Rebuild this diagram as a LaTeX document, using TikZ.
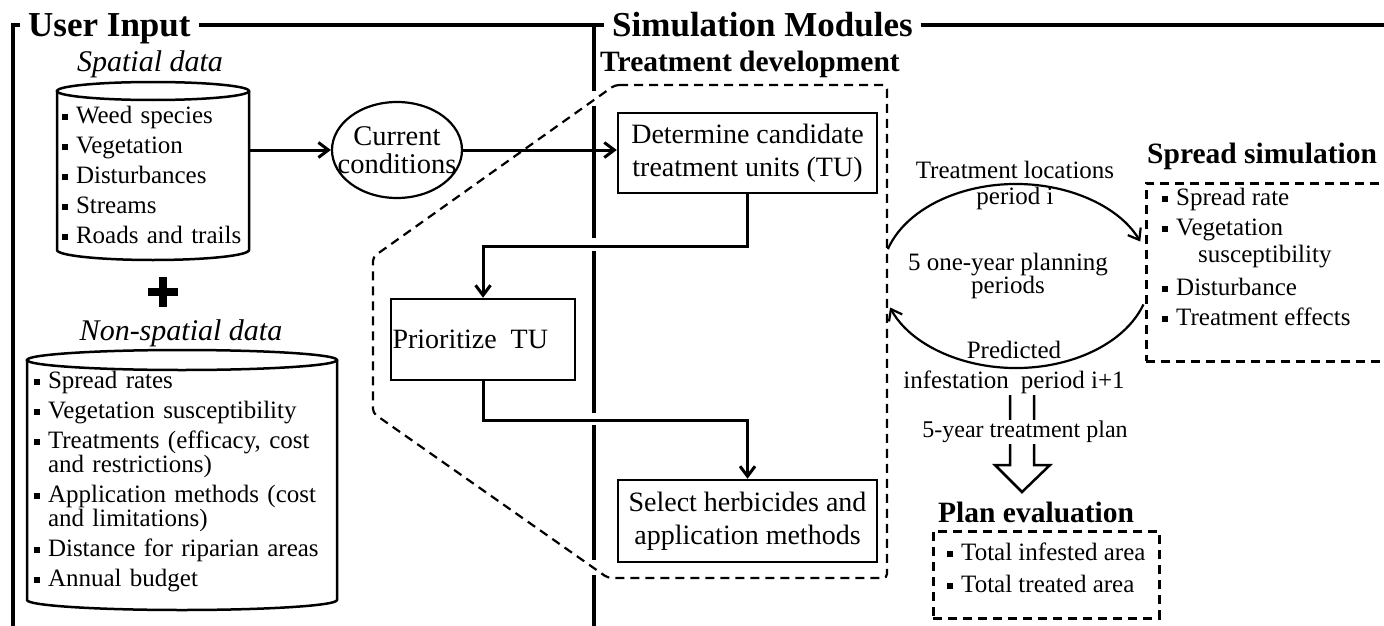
\documentclass[tikz,border=0pt]{standalone}
\usepackage{fontspec}
\setmainfont{Liberation Serif}
\usetikzlibrary{arrows.meta,shapes.geometric}

% small square bullet for the item lists
\newcommand{\sqb}{\makebox[14pt][l]{\rule[3.5pt]{6pt}{6pt}}}

\begin{document}
\begin{tikzpicture}[x=1pt,y=-1pt,
frame/.style={line width=4.5pt},
box/.style={draw,line width=2.5pt,inner sep=0pt,align=center,font=\fontsize{28}{33}\selectfont},
dashbox/.style={draw,line width=2.5pt,dash pattern=on 9pt off 6pt},
conn/.style={line width=3pt,-{Straight Barb[length=10pt,width=15pt]}},
cyl/.style={line width=2.5pt},
bigtitle/.style={font=\fontsize{35}{35}\selectfont\bfseries,inner xsep=8pt,inner ysep=0pt,anchor=base west},
subtitle/.style={font=\fontsize{29.5}{30}\selectfont\bfseries,inner sep=0pt,anchor=base west},
datatitle/.style={font=\fontsize{30}{30}\selectfont\itshape,inner sep=0pt,anchor=base},
itemlist/.style={font=\fontsize{25}{24}\selectfont,align=left,inner ysep=0pt},
cyctext/.style={font=\fontsize{25}{26}\selectfont,align=center,inner sep=0pt}
]
\useasboundingbox (0,0) rectangle (1384,626);

% frame: titles, top rule and the two verticals
\coordinate (top) at (0,25);
\node[bigtitle] (userin) at (20,37) {User Input};
\node[bigtitle] (simmod) at (604,37) {Simulation Modules};
\draw[frame] (userin.west |- top) -| (13,630);
\draw[frame] (userin.east |- top) -- (simmod.west |- top);
\draw[frame] (simmod.east |- top) -- (1390,25);
\draw[frame] (594,25) -- (594,91) (594,106) -- (594,238) (594,251) -- (594,413)
  (594,425) -- (594,560) (594,575) -- (594,630);

% spatial data
\node[datatitle] (spt) at (150,72) {Spatial data};
\draw[cyl] (57,91) -- (57,250) arc[start angle=180,end angle=0,x radius=96,y radius=10] -- (249,91);
\draw[cyl] (153,91) ellipse[x radius=96,y radius=9];
\node[itemlist,text width=182pt,inner xsep=5pt,anchor=north] (spatial) at (153,106)
  {\sqb Weed species\\[6pt]\sqb Vegetation\\[6pt]\sqb Disturbances\\[6pt]\sqb Streams\\[6pt]\sqb Roads and trails};

\draw[line width=8pt] (148,292) -- (178,292) (163,277) -- (163,307);

% non-spatial data
\node[datatitle] (nspt) at (181,340) {Non-spatial data};
\draw[cyl] (27,360) -- (27,600) arc[start angle=180,end angle=0,x radius=155,y radius=10] -- (337,360);
\draw[cyl] (182,360) ellipse[x radius=155,y radius=10];
\node[itemlist,text width=296pt,inner xsep=7pt,anchor=north] (nonspatial) at (182,371)
  {\sqb Spread rates\\[6pt]\sqb Vegetation susceptibility\\[6pt]\sqb Treatments (efficacy, cost\\\hspace*{14pt}and restrictions)\\[6pt]%
   \sqb Application methods (cost\\\hspace*{14pt}and limitations)\\[6pt]\sqb Distance for riparian areas\\[6pt]\sqb Annual budget};

\node[draw,ellipse,line width=2.2pt,minimum width=130pt,minimum height=96pt] (cc) at (397,150) {};
\node[font=\fontsize{28.5}{28}\selectfont,align=center,inner sep=0pt] (cctext) at (cc) {Current\\conditions};

% treatment development
\node[subtitle] (tdev) at (600,72) {Treatment development};
\draw[dashbox,line width=2.2pt,rounded corners=4pt] (615,85) -- (887,85) -- (887,578) -- (608,578) -- (373,413) -- (373,257) -- cycle;
\node[box,minimum width=259pt,minimum height=80pt] (det) at (747.5,153) {Determine candidate\\treatment units (TU)};
\node[box,minimum width=184pt,minimum height=81pt,text width=181pt,align=left] (prio) at (483,339.5) {Prioritize\hspace{14pt}TU};
\node[box,minimum width=259pt,minimum height=82pt] (sel) at (747.5,521) {Select herbicides and\\application methods};

\draw[conn] (spatial.east |- cc) -- (cc);
\draw[conn] (cc) -- (cc -| det.west);
\draw[conn] (det.south) -- ++(0,52) -| (prio.north);
\draw[conn] (prio.south) -- ++(0,39) -| (sel.north);

% planning cycle
\coordinate (cyc) at (1016,276);
\draw[conn,line width=2.2pt] ([shift={(-163:134 and 92)}]cyc) arc[start angle=-163,end angle=-22,x radius=134,y radius=92];
\draw[conn,line width=2.2pt] ([shift={(18:134 and 92)}]cyc) arc[start angle=18,end angle=160,x radius=134,y radius=92];
\node[cyctext] (tloc) at (1015,185) {Treatment locations\\period i};
\node[cyctext,font=\fontsize{25}{22}\selectfont] (plan5) at (1008,276) {5 one-year planning\\periods};
\node[cyctext,font=\fontsize{25}{30}\selectfont] (pred) at (1014,367) {Predicted\\infestation\hspace{12pt}period i+1};

% spread simulation
\node[subtitle] (sprtitle) at (1147,163) {Spread simulation};
\node[dashbox,minimum width=245pt,minimum height=178pt,anchor=north west] (spread) at (1145,182) {};
\node[itemlist,anchor=north west,inner xsep=0pt] (spreadlist) at (1162,188)
  {\sqb Spread rate\\[6pt]\sqb Vegetation\\[3pt]\hspace*{36pt}susceptibility\\[9pt]\sqb Disturbance\\[6pt]\sqb Treatment effects};

% plan evaluation
\coordinate (planarrow) at (1022,395);
\draw[line width=2.5pt] ([xshift=-12pt]planarrow) -- ++(0,70) -- ++(-15,0) -- ++(27,27) -- ++(28,-27) -- ++(-16,0) -- ++(0,-70);
\node[fill=white,inner xsep=2pt,inner ysep=1pt,font=\fontsize{24}{24}\selectfont] (plantext) at (1025,432) {5-year treatment plan};
\node[subtitle] (planttl) at (938,522) {Plan evaluation};
\node[dashbox,minimum width=226pt,minimum height=87pt,anchor=north west] (planbox) at (932,530) {};
\node[itemlist,anchor=north west,inner xsep=0pt] (planlist) at (947,543)
  {\sqb Total infested area\\[8pt]\sqb Total treated area};
\end{tikzpicture}
\end{document}
